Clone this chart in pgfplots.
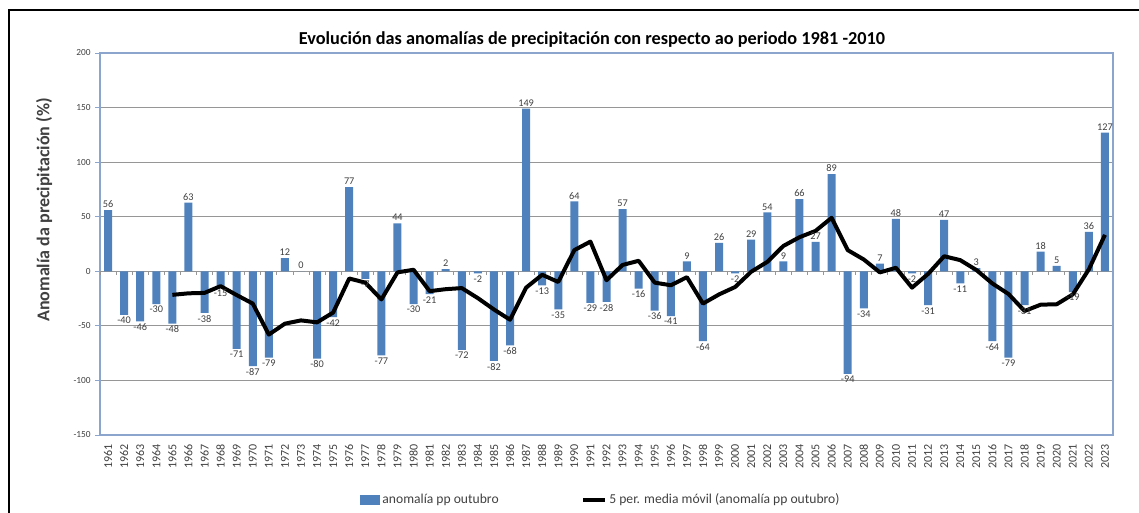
\documentclass[border=0pt]{standalone}
\usepackage{fontspec}
\setmainfont{Carlito}
\usepackage{pgfplots}
\usepackage{pgfplotstable}
\pgfplotsset{compat=1.18}
\definecolor{barblue}{RGB}{79,129,189}
\definecolor{gridgray}{RGB}{150,150,150}
\definecolor{axisblue}{RGB}{140,165,205}
\definecolor{labgray}{RGB}{64,64,64}

\pgfplotstableread{
year val
1961 56
1962 -40
1963 -46
1964 -30
1965 -48
1966 63
1967 -38
1968 -15
1969 -71
1970 -87
1971 -79
1972 12
1973 0
1974 -80
1975 -42
1976 77
1977 -7
1978 -77
1979 44
1980 -30
1981 -21
1982 2
1983 -72
1984 -2
1985 -82
1986 -68
1987 149
1988 -13
1989 -35
1990 64
1991 -29
1992 -28
1993 57
1994 -16
1995 -36
1996 -41
1997 9
1998 -64
1999 26
2000 -2
2001 29
2002 54
2003 9
2004 66
2005 27
2006 89
2007 -94
2008 -34
2009 7
2010 48
2011 -2
2012 -31
2013 47
2014 -11
2015 3
2016 -64
2017 -79
2018 -31
2019 18
2020 5
2021 -19
2022 36
2023 127
}\anomalia

\pgfplotstableread{
year mm
1965 -21.6
1966 -20.2
1967 -19.8
1968 -13.6
1969 -21.8
1970 -29.6
1971 -58.0
1972 -48.0
1973 -45.0
1974 -46.8
1975 -37.8
1976 -6.6
1977 -10.4
1978 -25.8
1979 -1.0
1980 1.4
1981 -18.2
1982 -16.4
1983 -15.4
1984 -24.6
1985 -35.0
1986 -44.4
1987 -15.0
1988 -3.2
1989 -9.8
1990 19.4
1991 27.2
1992 -8.2
1993 5.8
1994 9.6
1995 -10.4
1996 -12.8
1997 -5.4
1998 -29.6
1999 -21.2
2000 -14.4
2001 -0.4
2002 8.6
2003 23.2
2004 31.2
2005 37.0
2006 49.0
2007 19.4
2008 10.8
2009 -1.0
2010 3.2
2011 -15.0
2012 -2.4
2013 13.8
2014 10.2
2015 1.2
2016 -11.2
2017 -20.8
2018 -36.4
2019 -30.6
2020 -30.2
2021 -21.2
2022 1.8
2023 33.4
}\media

\begin{document}
\begin{tikzpicture}
\useasboundingbox (-75pt,-58.5pt) rectangle (779.25pt,326.25pt);
\begin{axis}[
  at={(0pt,0pt)}, anchor=south west,
  scale only axis, width=759.75pt, height=286.5pt,
  xmin=1960.5, xmax=2023.5, ymin=-150, ymax=200,
  ytick={-150,-100,...,200},
  xtick=data,
  /pgf/number format/assume math mode=true,
  xticklabel style={rotate=90, anchor=east, font=\fontsize{9}{9}\selectfont, text=labgray,
    /pgf/number format/fixed, /pgf/number format/precision=0, /pgf/number format/1000 sep={}},
  yticklabel style={font=\fontsize{7}{8}\selectfont, text=labgray},
  x tick style={draw=none},
  ytick pos=left, xtick pos=bottom,
  tick align=outside, major tick length=3.5pt,
  y tick style={color=axisblue, line width=0.6pt},
  axis line style={color=axisblue, line width=0.8pt},
  ymajorgrids, grid style={color=gridgray, line width=0.75pt},
  legend columns=2,
  legend style={at={(0.4946,-0.17)}, anchor=center, draw=none, fill=none,
    font=\fontsize{10.2}{11}\selectfont, text=labgray,
    /tikz/every even column/.append style={column sep=60pt}},
]
\pgfplotsinvokeforeach{1960.5,1961.5,...,2023.5}{
  \draw[gridgray, line width=0.6pt] (axis cs:#1,0) -- ++(0pt,-3pt);
}
\addplot[ybar, bar width=6pt, fill=barblue, draw=none,
  nodes near coords,
  every node near coord/.append style={font=\fontsize{7.7}{8}\selectfont, text=labgray, inner sep=1.5pt, /pgf/number format/fixed, /pgf/number format/precision=0},
  legend image code/.code={\fill[barblue] (0pt,-3.5pt) rectangle (15pt,3.5pt);}]
  table[x=year, y=val] {\anomalia};
\addlegendentry{anomalía pp outubro}
\addplot[black, line width=3pt, mark=none, line join=round,
  legend image code/.code={\draw[black, line width=3pt] (0pt,0pt) -- (16pt,0pt);}]
  table[x=year, y=mm] {\media};
\addlegendentry{5 per. media móvil (anomalía pp outubro)}
\end{axis}
\node[font=\bfseries\fontsize{13.7}{14}\selectfont] at (369pt,296.25pt) {Evolución das anomalías de precipitación con respecto ao periodo 1981 -2010};
\node[rotate=90, font=\bfseries\fontsize{13.5}{14}\selectfont, text=labgray] at (-42pt,168.75pt) {Anomalía da precipitación (\%)};
\draw[black, line width=1.5pt] (-68.25pt,-58.5pt) -- (-68.25pt,318.75pt) -- (779.25pt,318.75pt);
\end{tikzpicture}
\end{document}
